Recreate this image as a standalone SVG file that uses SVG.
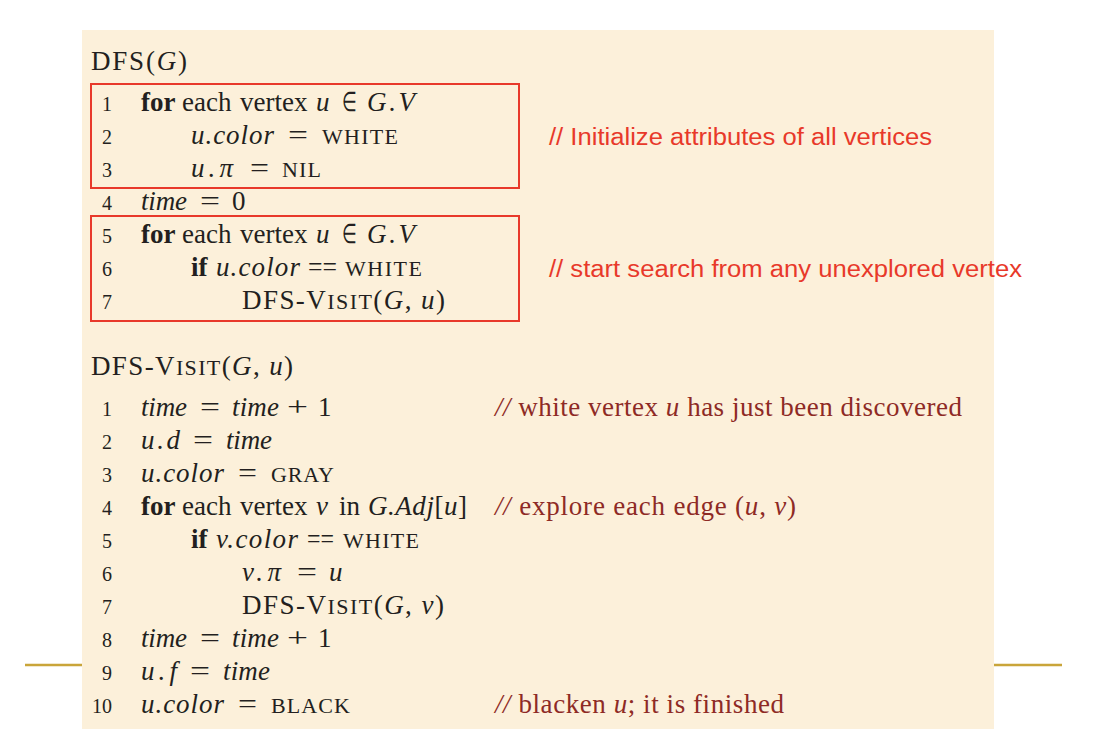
<svg xmlns="http://www.w3.org/2000/svg" width="1100" height="752" viewBox="0 0 1100 752">
<style>
.c{font-family:"Liberation Serif","Times New Roman",serif;font-size:27px;fill:#231F20}
.n{font-family:"Liberation Serif","Times New Roman",serif;font-size:20px;fill:#231F20;text-anchor:end}
.i{font-style:italic}
.b{font-weight:bold}
.sc{font-size:22px}
.cm{font-family:"Liberation Serif","Times New Roman",serif;font-size:27px;fill:#8E2A25}
.rc{font-family:"Liberation Sans",Arial,sans-serif;font-size:23px;fill:#E8392A}
.box{fill:none;stroke:#E8392A;stroke-width:2}
.gold{stroke:#C9A53A;stroke-width:2.5}
</style>
<rect x="82" y="30" width="912" height="699" fill="#FCF0DA"/>
<line class="gold" x1="25" y1="665" x2="82" y2="665"/>
<line class="gold" x1="994" y1="665" x2="1062" y2="665"/>

<g id="dfs">
<text class="c" x="91" y="70" textLength="96">DFS(<tspan class="i">G</tspan>)</text>
<text class="n" x="112" y="111">1</text>
<text class="c" y="111"><tspan x="141" class="b">for</tspan><tspan x="182">each</tspan><tspan x="240">vertex</tspan><tspan x="316" class="i">u</tspan><tspan x="342" textLength="15" lengthAdjust="spacingAndGlyphs">∈</tspan><tspan x="367" class="i" textLength="48">G.V</tspan></text>
<text class="n" x="112" y="144">2</text>
<text class="c" y="144"><tspan x="191" class="i" textLength="83">u.color</tspan><tspan x="288" textLength="20" lengthAdjust="spacingAndGlyphs">=</tspan><tspan x="322" class="sc" textLength="76">WHITE</tspan></text>
<text class="n" x="112" y="177">3</text>
<text class="c" y="177"><tspan x="191" class="i" textLength="42">u.π</tspan><tspan x="250" textLength="19" lengthAdjust="spacingAndGlyphs">=</tspan><tspan x="282" class="sc" textLength="39">NIL</tspan></text>
<text class="n" x="112" y="210">4</text>
<text class="c" y="210"><tspan x="141" class="i" textLength="46">time</tspan><tspan x="200" textLength="20" lengthAdjust="spacingAndGlyphs">=</tspan><tspan x="232">0</tspan></text>
<text class="n" x="112" y="243">5</text>
<text class="c" y="243"><tspan x="141" class="b">for</tspan><tspan x="182">each</tspan><tspan x="240">vertex</tspan><tspan x="316" class="i">u</tspan><tspan x="342" textLength="15" lengthAdjust="spacingAndGlyphs">∈</tspan><tspan x="367" class="i" textLength="48">G.V</tspan></text>
<text class="n" x="112" y="276">6</text>
<text class="c" y="276"><tspan x="191" class="b">if</tspan><tspan x="216" class="i" textLength="84">u.color</tspan><tspan x="308" textLength="29" lengthAdjust="spacingAndGlyphs">==</tspan><tspan x="345" class="sc" textLength="77">WHITE</tspan></text>
<text class="n" x="112" y="309">7</text>
<text class="c" x="242" y="309" textLength="203">DFS-V<tspan class="sc">ISIT</tspan>(<tspan class="i">G</tspan>, <tspan class="i">u</tspan>)</text>
</g>

<g id="box-init"><rect class="box" x="91" y="84" width="428" height="104"/></g>
<g id="box-search"><rect class="box" x="91" y="216" width="428" height="105"/></g>
<g id="note-init"><text class="rc" x="549" y="145" textLength="383" lengthAdjust="spacingAndGlyphs">// Initialize attributes of all vertices</text></g>
<g id="note-search"><text class="rc" x="549" y="277" textLength="473" lengthAdjust="spacingAndGlyphs">// start search from any unexplored vertex</text></g>

<g id="dfs-visit">
<text class="c" x="91" y="375" textLength="202">DFS-V<tspan class="sc">ISIT</tspan>(<tspan class="i">G</tspan>, <tspan class="i">u</tspan>)</text>
<text class="n" x="112" y="416">1</text>
<text class="c" y="416"><tspan x="141" class="i" textLength="46">time</tspan><tspan x="200" textLength="20" lengthAdjust="spacingAndGlyphs">=</tspan><tspan x="232" class="i" textLength="47">time</tspan><tspan x="287" textLength="21" lengthAdjust="spacingAndGlyphs">+</tspan><tspan x="318">1</tspan></text>
<text class="n" x="112" y="449">2</text>
<text class="c" y="449"><tspan x="141" class="i" textLength="39">u.d</tspan><tspan x="193" textLength="20" lengthAdjust="spacingAndGlyphs">=</tspan><tspan x="226" class="i" textLength="46">time</tspan></text>
<text class="n" x="112" y="482">3</text>
<text class="c" y="482"><tspan x="141" class="i" textLength="83">u.color</tspan><tspan x="238" textLength="19" lengthAdjust="spacingAndGlyphs">=</tspan><tspan x="271" class="sc" textLength="63">GRAY</tspan></text>
<text class="n" x="112" y="515">4</text>
<text class="c" y="515"><tspan x="141" class="b">for</tspan><tspan x="182">each</tspan><tspan x="240">vertex</tspan><tspan x="316" class="i">v</tspan><tspan x="339">in</tspan><tspan x="368" textLength="99"><tspan class="i">G.Adj</tspan>[<tspan class="i">u</tspan>]</tspan></text>
<text class="n" x="112" y="548">5</text>
<text class="c" y="548"><tspan x="191" class="b">if</tspan><tspan x="216" class="i" textLength="82">v.color</tspan><tspan x="307" textLength="27" lengthAdjust="spacingAndGlyphs">==</tspan><tspan x="343" class="sc" textLength="76">WHITE</tspan></text>
<text class="n" x="112" y="581">6</text>
<text class="c" y="581"><tspan x="242" class="i" textLength="39">v.π</tspan><tspan x="297" textLength="20" lengthAdjust="spacingAndGlyphs">=</tspan><tspan x="329" class="i">u</tspan></text>
<text class="n" x="112" y="614">7</text>
<text class="c" x="242" y="614" textLength="202">DFS-V<tspan class="sc">ISIT</tspan>(<tspan class="i">G</tspan>, <tspan class="i">v</tspan>)</text>
<text class="n" x="112" y="647">8</text>
<text class="c" y="647"><tspan x="141" class="i" textLength="46">time</tspan><tspan x="200" textLength="20" lengthAdjust="spacingAndGlyphs">=</tspan><tspan x="232" class="i" textLength="47">time</tspan><tspan x="287" textLength="21" lengthAdjust="spacingAndGlyphs">+</tspan><tspan x="318">1</tspan></text>
<text class="n" x="112" y="680">9</text>
<text class="c" y="680"><tspan x="141" class="i" textLength="36">u.f</tspan><tspan x="190" textLength="20" lengthAdjust="spacingAndGlyphs">=</tspan><tspan x="223" class="i" textLength="47">time</tspan></text>
<text class="n" x="112" y="713">10</text>
<text class="c" y="713"><tspan x="141" class="i" textLength="83">u.color</tspan><tspan x="238" textLength="19" lengthAdjust="spacingAndGlyphs">=</tspan><tspan x="271" class="sc" textLength="79">BLACK</tspan></text>
<text class="cm" x="495" y="416" textLength="467"><tspan class="i">//</tspan> white vertex <tspan class="i">u</tspan> has just been discovered</text>
<text class="cm" x="495" y="515" textLength="301"><tspan class="i">//</tspan> explore each edge (<tspan class="i">u</tspan>, <tspan class="i">v</tspan>)</text>
<text class="cm" x="495" y="713" textLength="289"><tspan class="i">//</tspan> blacken <tspan class="i">u</tspan>; it is finished</text>
</g>
</svg>
